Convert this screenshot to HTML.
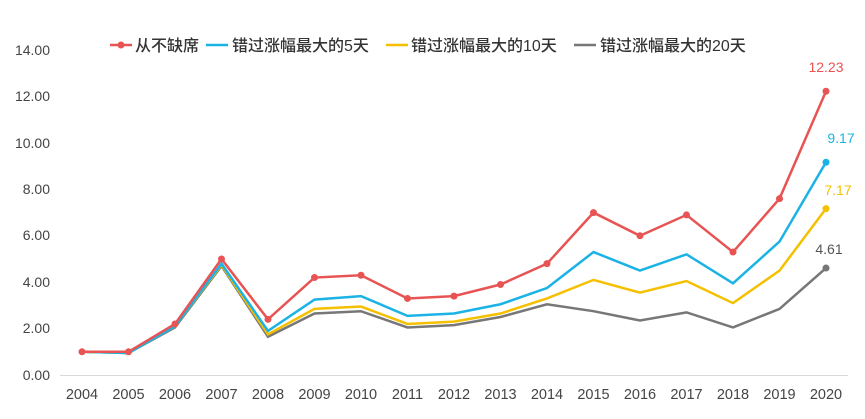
<!DOCTYPE html>
<html><head><meta charset="utf-8"><style>
body{margin:0;background:#fff;}
svg text{font-family:"Liberation Sans","Noto Sans CJK SC",sans-serif;}
</style></head><body>
<svg width="865" height="414" viewBox="0 0 865 414" xmlns="http://www.w3.org/2000/svg">
<g font-size="14" fill="#444" text-anchor="end">
<text x="50" y="380">0.00</text><text x="50" y="333">2.00</text><text x="50" y="287">4.00</text>
<text x="50" y="240">6.00</text><text x="50" y="194">8.00</text><text x="50" y="148">10.00</text>
<text x="50" y="101">12.00</text><text x="50" y="55">14.00</text>
</g>
<line x1="60" y1="375.5" x2="848" y2="375.5" stroke="#d9d9d9"/>
<g font-size="14.5" fill="#444" text-anchor="middle" id="xl"></g>
<g id="lines"></g>
<g font-size="14" text-anchor="middle">
<text x="826" y="72" fill="#e85353">12.23</text>
<text x="841" y="143" fill="#1bb3e6">9.17</text>
<text x="838" y="195" fill="#f5c000">7.17</text>
<text x="829" y="254" fill="#555">4.61</text>
</g>
<g font-size="16" fill="#333" font-weight="500">
<line x1="110" y1="45" x2="132" y2="45" stroke="#e85353" stroke-width="2.5"/><circle cx="121" cy="45" r="3.5" fill="#e85353"/>
<text x="135" y="51">从不缺席</text>
<line x1="206" y1="45" x2="228" y2="45" stroke="#1bb3e6" stroke-width="2.5"/>
<text x="232" y="51">错过涨幅最大的5天</text>
<line x1="386" y1="45" x2="408" y2="45" stroke="#f5c000" stroke-width="2.5"/>
<text x="411" y="51">错过涨幅最大的10天</text>
<line x1="574" y1="45" x2="596" y2="45" stroke="#777" stroke-width="2.5"/>
<text x="600" y="51">错过涨幅最大的20天</text>
</g>
</svg>
<script>
const X=i=>82+i*46.5,Y=v=>375-v*23.2,ns="http://www.w3.org/2000/svg";
const xl=document.getElementById('xl');
for(let i=0;i<17;i++){const t=document.createElementNS(ns,'text');t.setAttribute('x',X(i));t.setAttribute('y',399);t.textContent=2004+i;xl.appendChild(t);}
const S=[
["#777",[1,0.95,2.05,4.7,1.65,2.65,2.75,2.05,2.15,2.5,3.05,2.75,2.35,2.7,2.05,2.85,4.61],0],
["#f5c000",[1,0.95,2.1,4.75,1.75,2.85,2.95,2.2,2.3,2.65,3.3,4.1,3.55,4.05,3.1,4.5,7.17],0],
["#1bb3e6",[1,0.95,2.1,4.8,1.9,3.25,3.4,2.55,2.65,3.05,3.75,5.3,4.5,5.2,3.95,5.75,9.17],0],
["#e85353",[1,1,2.2,5.0,2.4,4.2,4.3,3.3,3.4,3.9,4.8,7.0,6.0,6.9,5.3,7.6,12.23],1]];
const g=document.getElementById('lines');
S.forEach(([c,d,m])=>{const p=document.createElementNS(ns,'polyline');
p.setAttribute('points',d.map((v,i)=>X(i)+','+Y(v)).join(' '));
p.setAttribute('fill','none');p.setAttribute('stroke',c);p.setAttribute('stroke-width','2.5');g.appendChild(p);
d.forEach((v,i)=>{if(m||i==16){const k=document.createElementNS(ns,'circle');k.setAttribute('cx',X(i));k.setAttribute('cy',Y(v));k.setAttribute('r',3.5);k.setAttribute('fill',c);g.appendChild(k);}});});
</script>
</body></html>
